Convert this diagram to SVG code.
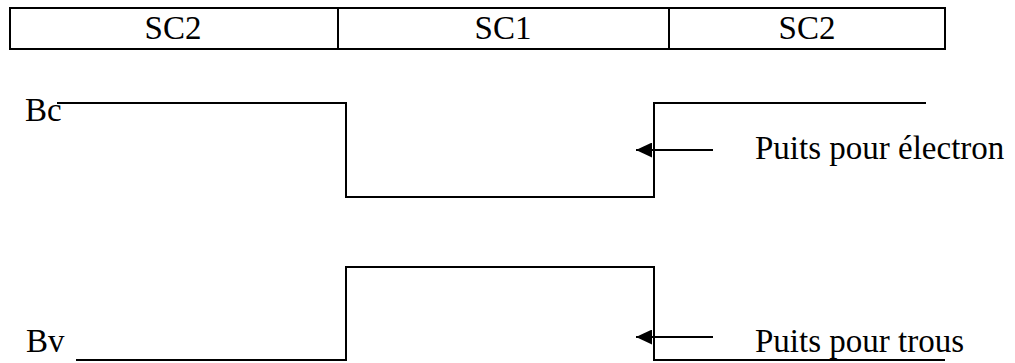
<svg xmlns="http://www.w3.org/2000/svg" width="1015" height="363" viewBox="0 0 1015 363">
<defs>
<style>
.t{font-family:"Liberation Serif","Times New Roman",serif;font-size:33px;fill:#000}
.ln{fill:none;stroke:#000;stroke-width:2}
</style>
<marker id="arr" viewBox="0 0 16 15" refX="16" refY="7.5" markerWidth="16" markerHeight="15" orient="auto-start-reverse" markerUnits="userSpaceOnUse">
<path d="M0,0 L16,7.5 L0,15 z" fill="#000"/>
</marker>
</defs>
<g id="header">
<rect class="ln" x="10" y="8" width="935" height="41"/>
<line class="ln" x1="338" y1="8" x2="338" y2="49"/>
<line class="ln" x1="669" y1="8" x2="669" y2="49"/>
<text class="t" x="173" y="39" text-anchor="middle">SC2</text>
<text class="t" x="503" y="39" text-anchor="middle">SC1</text>
<text class="t" x="807" y="39" text-anchor="middle">SC2</text>
</g>
<g id="bc">
<path class="ln" d="M57,103 H346 V197 H654 V103 H926"/>
<text class="t" x="25" y="121">Bc</text>
</g>
<g id="bv">
<path class="ln" d="M76,360 H346 V267 H654 V360 H945"/>
<text class="t" x="26" y="352">Bv</text>
</g>
<g id="connectors">
<line class="ln" x1="713" y1="150" x2="636" y2="150" marker-end="url(#arr)"/>
<line class="ln" x1="713" y1="337" x2="636" y2="337" marker-end="url(#arr)"/>
</g>
<g id="labels">
<text class="t" x="755" y="159">Puits pour électron</text>
<text class="t" x="755" y="352">Puits pour trous</text>
</g>
</svg>
